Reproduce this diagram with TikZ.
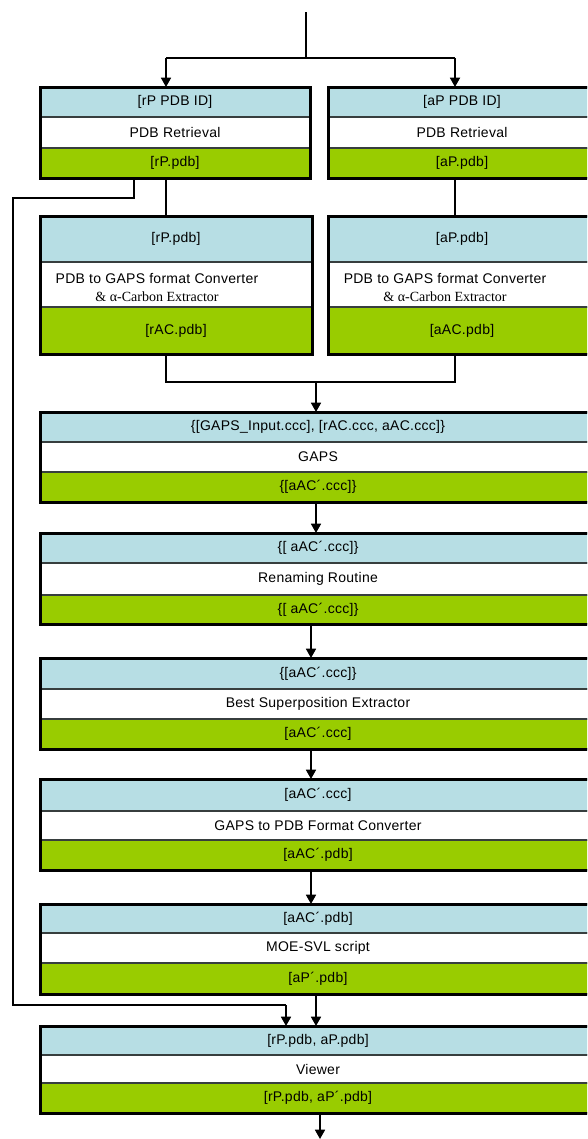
\documentclass[tikz,border=0pt]{standalone}
\usepackage{fontspec}
\setmainfont{Liberation Sans}[LetterSpace=2]
\newfontfamily\serifline{Liberation Serif}
\usepackage{tikz}
\usetikzlibrary{calc}
\usetikzlibrary{arrows.meta}
\usetikzlibrary{positioning}
\usetikzlibrary{fit}
\definecolor{pdbblue}{RGB}{183,222,228}
\definecolor{pdbgreen}{RGB}{153,204,0}
\definecolor{bandline}{RGB}{55,62,62}
\tikzset{band/.style={rectangle, draw=bandline, line width=0.9pt, inner sep=0pt, outer sep=0pt}}
\tikzset{inband/.style={band, fill=pdbblue}}
\tikzset{toolband/.style={band, fill=white}}
\tikzset{outband/.style={band, fill=pdbgreen}}
\tikzset{boxframe/.style={draw=black, line width=2.25pt}}
\tikzset{wire/.style={draw=black, line width=0.8pt}}

\begin{document}
\begin{tikzpicture}[x=0.75pt, y=-0.75pt, font=\fontsize{10.5}{13.5}\selectfont]
\tikzstyle{myarrowstyle} = [line width=1.3pt, -{Triangle[width=7.5pt, length=7pt]}]
\path[fill=white, use as bounding box] (0,0) rectangle (587,1139);
\clip (0,0) rectangle (587,1139);

% retrieval
\node[inband, fit={(40,87) (310,117)}, label={center:[rP PDB ID]}] (retrR-in) {};
\node[toolband, fit={(40,117) (310,148)}, label={center:PDB Retrieval}] (retrR-tool) {};
\node[outband, fit={(40,148) (310,178)}, label={center:[rP.pdb]}] (retrR-out) {};
\draw[boxframe] (retrR-in.north west) rectangle (retrR-out.south east);
\node[inband, fit={(328,87) (596,117)}, label={center:[aP PDB ID]}] (retrA-in) {};
\node[toolband, fit={(328,117) (596,148)}, label={center:PDB Retrieval}] (retrA-tool) {};
\node[outband, fit={(328,148) (596,178)}, label={center:[aP.pdb]}] (retrA-out) {};
\draw[boxframe] (retrA-in.north west) rectangle (retrA-out.south east);

% converters
\node[inband, fit={(40,216) (312,262)}, label={center:[rP.pdb]}] (convR-in) {};
\node[toolband, fit={(40,262) (312,307)}] (convR-tool) {};
\node[outband, fit={(40,307) (312,354)}, label={center:[rAC.pdb]}] (convR-out) {};
\draw[boxframe] (convR-in.north west) rectangle (convR-out.south east);
\node[align=center, inner sep=0pt] (convR-label) at (157,287) {PDB to GAPS format Converter\\{\serifline \& α-Carbon Extractor}};
\node[inband, fit={(328,216) (596,262)}, label={center:[aP.pdb]}] (convA-in) {};
\node[toolband, fit={(328,262) (596,307)}] (convA-tool) {};
\node[outband, fit={(328,307) (596,354)}, label={center:[aAC.pdb]}] (convA-out) {};
\draw[boxframe] (convA-in.north west) rectangle (convA-out.south east);
\node[align=center, inner sep=0pt] (convA-label) at (445,287) {PDB to GAPS format Converter\\{\serifline \& α-Carbon Extractor}};

% single column
\node[inband, fit={(40,412) (596,442)}, label={center:{\{[GAPS\_Input.ccc], [rAC.ccc, aAC.ccc]\}}}] (gaps-in) {};
\node[toolband, fit={(40,442) (596,472)}, label={center:GAPS}] (gaps-tool) {};
\node[outband, fit={(40,472) (596,502)}, label={center:\{[aAC´.ccc]\}}] (gaps-out) {};
\draw[boxframe] (gaps-in.north west) rectangle (gaps-out.south east);

\node[inband, fit={(40,533) (596,563)}, label={center:\{[ aAC´.ccc]\}}] (rename-in) {};
\node[toolband, fit={(40,563) (596,595)}, label={center:Renaming Routine}] (rename-tool) {};
\node[outband, fit={(40,595) (596,624)}, label={center:\{[ aAC´.ccc]\}}] (rename-out) {};
\draw[boxframe] (rename-in.north west) rectangle (rename-out.south east);

\node[inband, fit={(40,658) (596,689)}, label={center:\{[aAC´.ccc]\}}] (best-in) {};
\node[toolband, fit={(40,689) (596,719)}, label={center:Best Superposition Extractor}] (best-tool) {};
\node[outband, fit={(40,719) (596,749)}, label={center:[aAC´.ccc]}] (best-out) {};
\draw[boxframe] (best-in.north west) rectangle (best-out.south east);

\node[inband, fit={(40,779) (596,811)}, label={center:[aAC´.ccc]}] (topdb-in) {};
\node[toolband, fit={(40,811) (596,840)}, label={center:GAPS to PDB Format Converter}] (topdb-tool) {};
\node[outband, fit={(40,840) (596,870)}, label={center:[aAC´.pdb]}] (topdb-out) {};
\draw[boxframe] (topdb-in.north west) rectangle (topdb-out.south east);

\node[inband, fit={(40,904) (596,933)}, label={center:[aAC´.pdb]}] (moe-in) {};
\node[toolband, fit={(40,933) (596,963)}, label={center:MOE-SVL script}] (moe-tool) {};
\node[outband, fit={(40,963) (596,994)}, label={center:[aP´.pdb]}] (moe-out) {};
\draw[boxframe] (moe-in.north west) rectangle (moe-out.south east);

\node[inband, fit={(40,1026) (596,1055)}, label={center:{[rP.pdb, aP.pdb]}}] (viewer-in) {};
\node[toolband, fit={(40,1055) (596,1083)}, label={center:Viewer}] (viewer-tool) {};
\node[outband, fit={(40,1083) (596,1113)}, label={center:{[rP.pdb, aP´.pdb]}}] (viewer-out) {};
\draw[boxframe] (viewer-in.north west) rectangle (viewer-out.south east);

% junctions
\coordinate (src) at (306,12);
\coordinate (split) at (306,58);
\coordinate (splitR) at (166,58);
\coordinate (splitA) at (455,58);
\coordinate (mergeR) at (166,382);
\coordinate (mergeA) at (455,382);
\coordinate (merge) at (316,382);
\coordinate (fbTop) at (134,198);
\coordinate (fbLeft) at (13,198);
\coordinate (fbBot) at (13,1005);
\coordinate (fbIn) at (286,1005);
\coordinate (sink) at (320,1139);

\draw[wire] (src) -- (split);
\draw[wire] (splitR) -- (splitA);
\draw[myarrowstyle] (splitR) -- (splitR |- retrR-in.north);
\draw[myarrowstyle] (splitA) -- (splitA |- retrA-in.north);
\draw[wire] (splitR |- retrR-out.south) -- (splitR |- convR-in.north);
\draw[wire] (splitA |- retrA-out.south) -- (splitA |- convA-in.north);
\draw[wire] (mergeR |- convR-out.south) -- (mergeR) -- (mergeA) -- (mergeA |- convA-out.south);
\draw[myarrowstyle] (merge) -- (merge |- gaps-in.north);
\draw[myarrowstyle] ([xshift=-1.5pt]gaps-out.south) -- ([xshift=-1.5pt]rename-in.north);
\draw[myarrowstyle] ([xshift=-5.25pt]rename-out.south) -- ([xshift=-5.25pt]best-in.north);
\draw[myarrowstyle] ([xshift=-5.25pt]best-out.south) -- ([xshift=-5.25pt]topdb-in.north);
\draw[myarrowstyle] ([xshift=-5.25pt]topdb-out.south) -- ([xshift=-5.25pt]moe-in.north);
\draw[myarrowstyle] ([xshift=-1.5pt]moe-out.south) -- ([xshift=-1.5pt]viewer-in.north);
\draw[wire] (fbTop |- retrR-out.south) -- (fbTop) -- (fbLeft) -- (fbBot) -- (fbIn);
\draw[myarrowstyle] (fbIn) -- (fbIn |- viewer-in.north);
\draw[myarrowstyle] (sink |- viewer-out.south) -- (sink);
\end{tikzpicture}
\end{document}
